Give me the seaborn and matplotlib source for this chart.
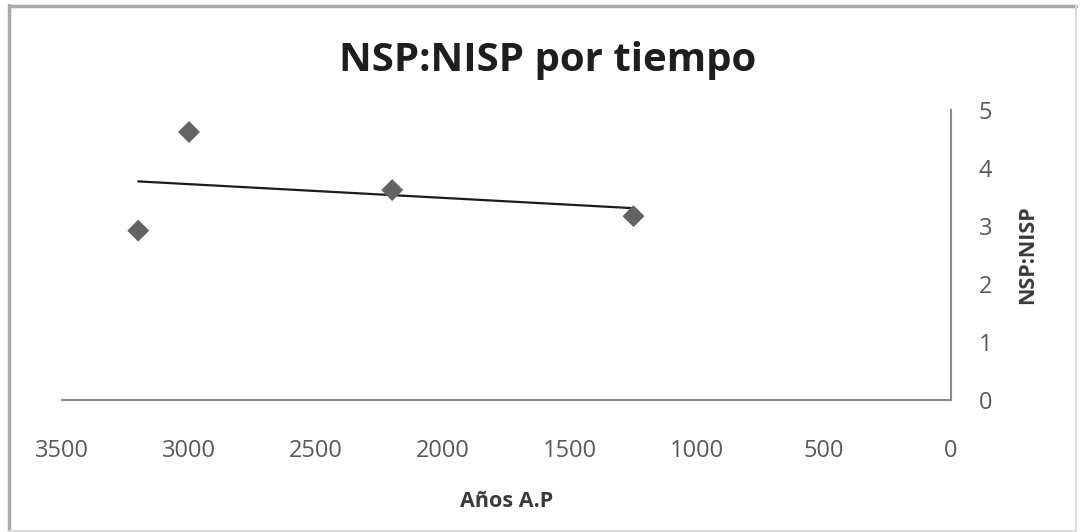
import matplotlib
matplotlib.use("Agg")
import matplotlib.pyplot as plt
from matplotlib.lines import Line2D
import seaborn as sns
import pandas as pd

# Radiocarbon ages (years before present) and NSP:NISP ratio per assemblage
years_bp = [3200, 3000, 2200, 1250]
nsp_nisp = [2.92, 4.62, 3.62, 3.17]

x_ticks = [3500, 3000, 2500, 2000, 1500, 1000, 500, 0]
y_ticks = [0, 1, 2, 3, 4, 5]

df = pd.DataFrame({"years": years_bp, "ratio": nsp_nisp})

sns.set_theme(style="white")
plt.rcParams["font.family"] = ["Open Sans", "DejaVu Sans"]

fig = plt.figure(figsize=(10.84, 5.32), dpi=100)
ax = fig.add_axes([62 / 1084, 132 / 532, 889 / 1084, 290 / 532])

# Linear trend line across the data range
sns.regplot(data=df, x="years", y="ratio", ax=ax, scatter=False, ci=None,
            truncate=True, color="#1c1c1c", line_kws={"linewidth": 1.6})
# Data points as diamonds
sns.scatterplot(data=df, x="years", y="ratio", ax=ax, marker="D", s=125,
                color="#636363", edgecolor="none", zorder=3)

ax.set_xlim(3500, 0)
ax.set_ylim(0, 5)
ax.set_xticks(x_ticks)
ax.set_yticks(y_ticks)
ax.set_xticklabels([str(v) for v in x_ticks])
ax.set_yticklabels([str(v) for v in y_ticks])

ax.yaxis.tick_right()
ax.yaxis.set_label_position("right")
ax.tick_params(axis="both", length=0, labelsize=17, labelcolor="#595959")
ax.tick_params(axis="x", pad=28)
ax.tick_params(axis="y", pad=20)
for lbl in ax.get_yticklabels():
    lbl.set_horizontalalignment("left")

for side in ("top", "left"):
    ax.spines[side].set_visible(False)
for side in ("bottom", "right"):
    ax.spines[side].set_color("#8a8a8a")
    ax.spines[side].set_linewidth(1.5)

ax.set_xlabel("Años A.P", fontsize=15.5, fontweight="bold", color="#3a3a3a",
              labelpad=20)
ax.set_ylabel("NSP:NISP", fontsize=15.5, fontweight="bold", color="#3a3a3a",
              labelpad=18)

fig.text(548 / 1084, 1 - 61 / 532, "NSP:NISP por tiempo", fontsize=29,
         fontweight="bold", color="#1e1e1e", ha="center", va="center")

# Chart-area frame
W, H = 1084, 532
frame_dark = "#a9a9a9"
frame_light = "#dcdcdc"
fig.add_artist(Line2D([9 / W, 9 / W], [1 - 5 / H, 1 / H], transform=fig.transFigure,
                      color=frame_dark, linewidth=2.5))
fig.add_artist(Line2D([9 / W, 1076 / W], [1 - 6 / H, 1 - 6 / H], transform=fig.transFigure,
                      color=frame_dark, linewidth=2.5))
fig.add_artist(Line2D([1076 / W, 1076 / W], [1 - 6 / H, 1 / H], transform=fig.transFigure,
                      color=frame_light, linewidth=1.5))
fig.add_artist(Line2D([9 / W, 1076 / W], [1 / H, 1 / H], transform=fig.transFigure,
                      color=frame_light, linewidth=1.5))

fig.savefig("out.png", dpi=100, facecolor="white")
